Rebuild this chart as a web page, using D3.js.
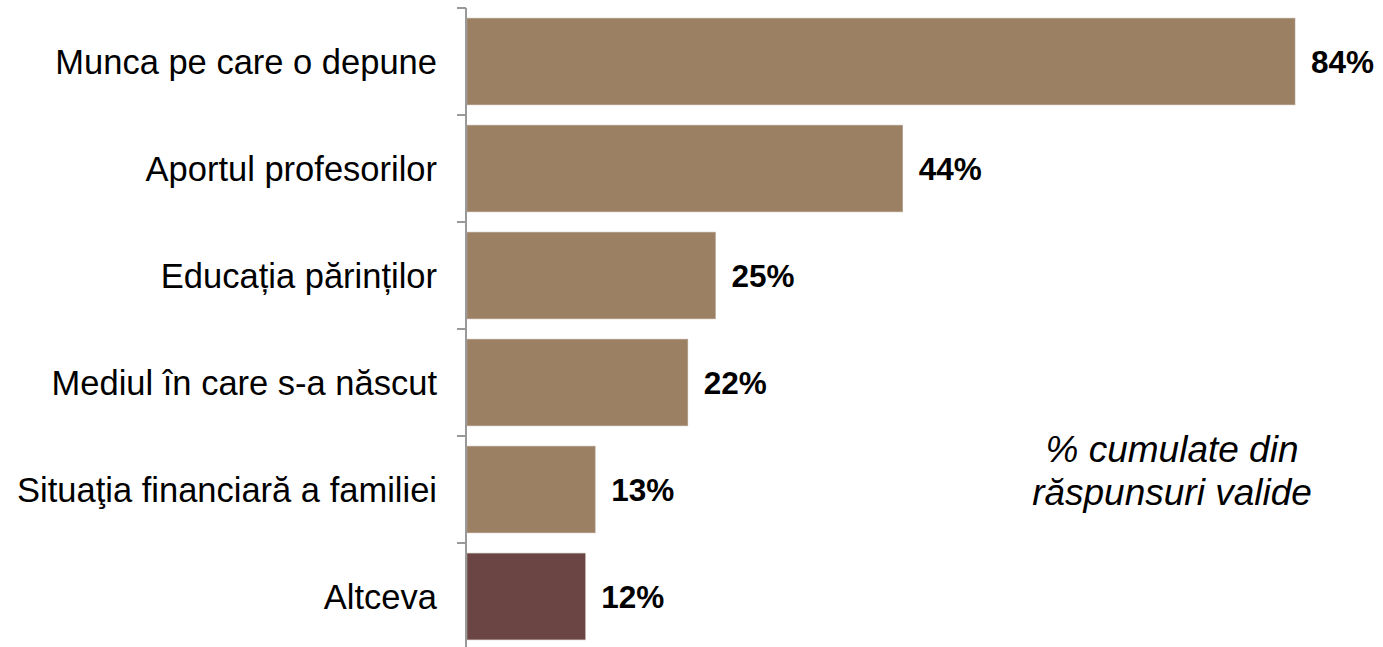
<!DOCTYPE html>
<html><head><meta charset="utf-8">
<script src="https://cdn.jsdelivr.net/npm/d3@7"></script>
<style>body{margin:0;background:#fff}svg{display:block}</style>
</head><body>
<svg id="c" width="1383" height="647"></svg>
<script>
const categories = ["Munca pe care o depune","Aportul profesorilor","Educația părinților","Mediul în care s-a născut","Situaţia financiară a familiei","Altceva"];
const values = [84, 44.2, 25.2, 22.4, 13, 12];
const colors = ["#9c8063","#9c8063","#9c8063","#9c8063","#9c8063","#6b4444"];
const note = ["% cumulate din","răspunsuri valide"];

const svg = d3.select("#c");
const x0 = 466, y0 = 8, y1 = 650;
const x = d3.scaleLinear().domain([0, 84]).range([x0 + 1, 1295]);
const y = d3.scaleBand().domain(categories).range([y0, y1]).paddingInner(0.19).paddingOuter(0.095);

const font = "'Liberation Sans', Arial, sans-serif";

// bars
svg.selectAll("rect.bar").data(values).enter().append("rect")
  .attr("x", x(0)).attr("y", (d,i)=>y(categories[i]))
  .attr("width", d=>x(d)-x(0)).attr("height", y.bandwidth())
  .attr("fill", (d,i)=>colors[i]).attr("stroke","#b0a090").attr("stroke-width",0.6);

// axis line & ticks
const step = (y1 - y0) / categories.length;
svg.append("line").attr("x1",x0).attr("x2",x0).attr("y1",y0).attr("y2",y1).attr("stroke","#999").attr("stroke-width",2);
svg.selectAll("line.tk").data(d3.range(categories.length)).enter().append("line")
  .attr("x1",x0-9).attr("x2",x0).attr("y1",i=>y0+i*step).attr("y2",i=>y0+i*step)
  .attr("stroke","#999").attr("stroke-width",2);

// category labels
svg.selectAll("text.cat").data(categories).enter().append("text")
  .attr("x", 437).attr("y", d=>y(d)+y.bandwidth()/2).attr("dy","0.36em")
  .attr("text-anchor","end").attr("font-family",font).attr("font-size",34.5).attr("fill","#000")
  .text(d=>d);

// value labels
svg.selectAll("text.val").data(values).enter().append("text")
  .attr("x", d=>x(d)+16).attr("y",(d,i)=>y(categories[i])+y.bandwidth()/2).attr("dy","0.36em")
  .attr("font-family",font).attr("font-size",31.5).attr("font-weight","bold").attr("fill","#000")
  .text(d=>Math.round(d)+"%");

// note
svg.selectAll("text.note").data(note).enter().append("text")
  .attr("x",1172).attr("y",(d,i)=>462+i*43)
  .attr("text-anchor","middle").attr("font-family",font).attr("font-size",37).attr("font-style","italic").attr("fill","#000")
  .text(d=>d);
</script>
</body></html>
